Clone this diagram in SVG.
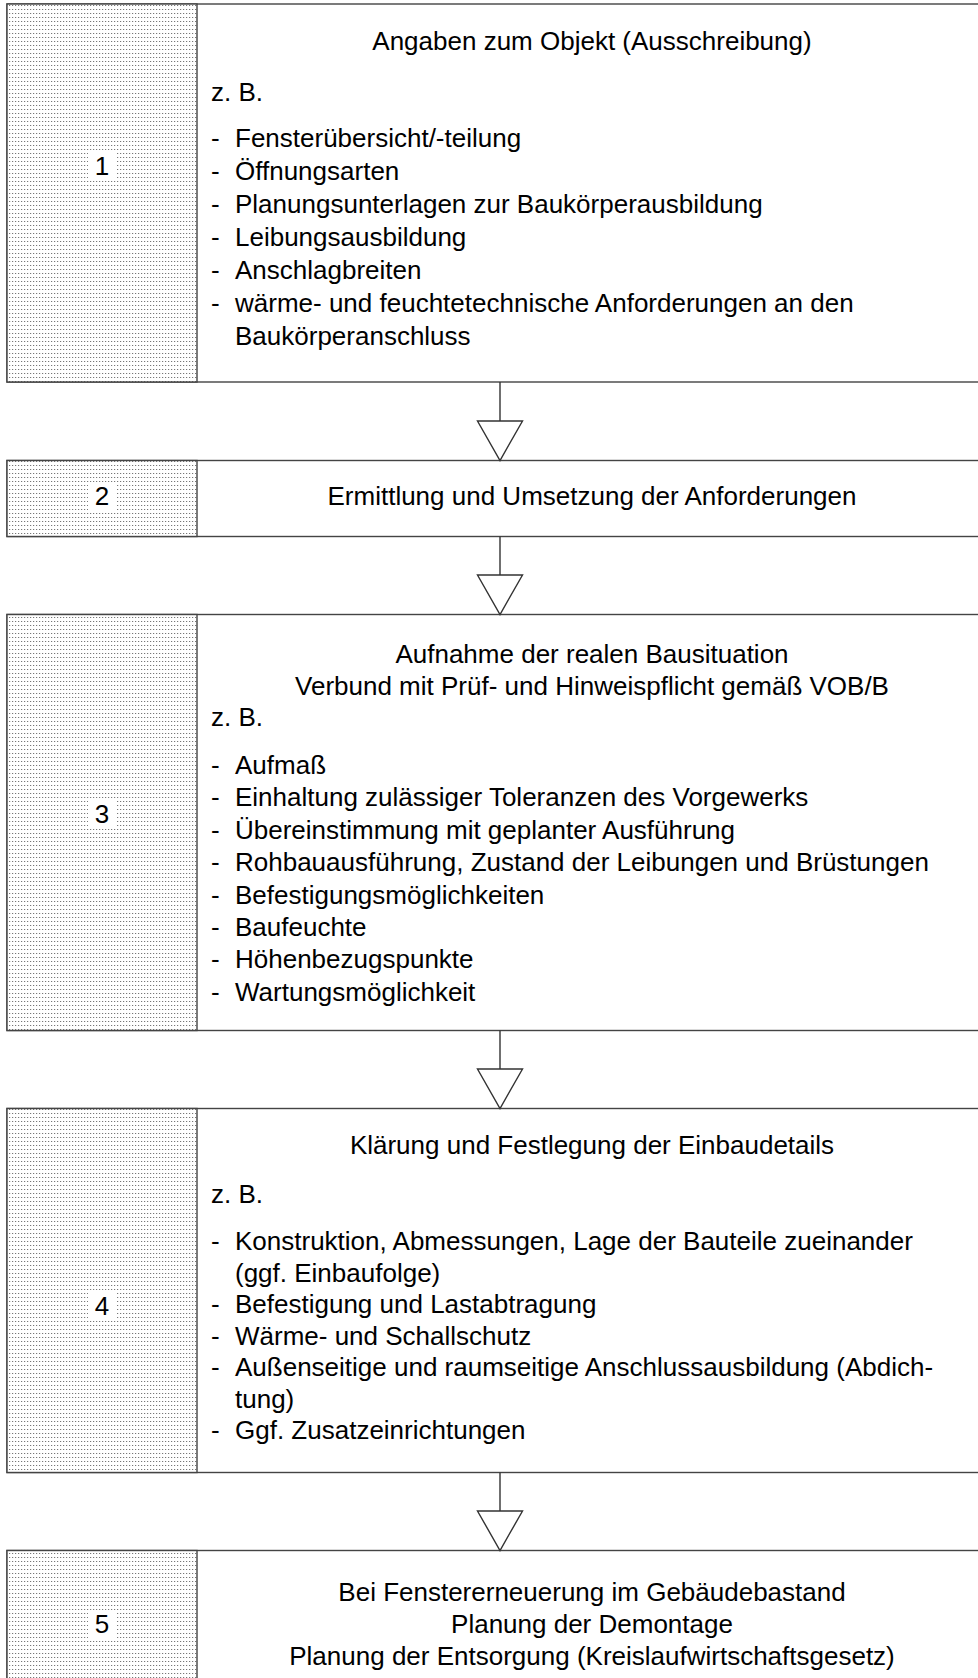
<svg xmlns="http://www.w3.org/2000/svg" width="978" height="1678" viewBox="0 0 978 1678">
<style>
.box{fill:#fff;stroke:#444;stroke-width:1.4}
.panel{fill:url(#dots);stroke:#444;stroke-width:1.4}
.t{font-family:"Liberation Sans",Arial,sans-serif;font-size:26px;fill:#000}
.c{text-anchor:middle}
.num{fill:#fff}
.conn line{stroke:#333;stroke-width:1.4}
.conn polygon{fill:#fff;stroke:#333;stroke-width:1.4}
</style>
<defs>
<pattern id="dots" width="3" height="4" patternUnits="userSpaceOnUse">
<rect width="3" height="4" fill="#fff"/>
<rect x="0" y="1" width="1.2" height="1" fill="#777"/>
</pattern>
</defs>
<rect width="978" height="1678" fill="#fff"/>
<g id="node1">
<rect class="box" x="7" y="4" width="990" height="378"/>
<rect class="panel" x="7" y="4" width="190" height="378"/>
<rect class="num" x="88" y="152" width="28" height="28"/>
<text class="t c" x="102" y="175">1</text>
<text class="t c" x="592" y="50">Angaben zum Objekt (Ausschreibung)</text>
<text class="t" x="211" y="101">z. B.</text>
<text class="t" x="211" y="147">-</text><text class="t" x="235" y="147">Fensterübersicht/-teilung</text>
<text class="t" x="211" y="180">-</text><text class="t" x="235" y="180">Öffnungsarten</text>
<text class="t" x="211" y="213">-</text><text class="t" x="235" y="213">Planungsunterlagen zur Baukörperausbildung</text>
<text class="t" x="211" y="246">-</text><text class="t" x="235" y="246">Leibungsausbildung</text>
<text class="t" x="211" y="279">-</text><text class="t" x="235" y="279">Anschlagbreiten</text>
<text class="t" x="211" y="312">-</text><text class="t" x="235" y="312">wärme- und feuchtetechnische Anforderungen an den</text>
<text class="t" x="235" y="345">Baukörperanschluss</text>
</g>
<g id="node2">
<rect class="box" x="7" y="460.5" width="990" height="76"/>
<rect class="panel" x="7" y="460.5" width="190" height="76"/>
<rect class="num" x="88" y="482" width="28" height="28"/>
<text class="t c" x="102" y="505">2</text>
<text class="t c" x="592" y="505">Ermittlung und Umsetzung der Anforderungen</text>
</g>
<g id="node3">
<rect class="box" x="7" y="614.5" width="990" height="416"/>
<rect class="panel" x="7" y="614.5" width="190" height="416"/>
<rect class="num" x="88" y="800" width="28" height="28"/>
<text class="t c" x="102" y="823">3</text>
<text class="t c" x="592" y="663">Aufnahme der realen Bausituation</text>
<text class="t c" x="592" y="695">Verbund mit Prüf- und Hinweispflicht gemäß VOB/B</text>
<text class="t" x="211" y="726">z. B.</text>
<text class="t" x="211" y="774">-</text><text class="t" x="235" y="774">Aufmaß</text>
<text class="t" x="211" y="806">-</text><text class="t" x="235" y="806">Einhaltung zulässiger Toleranzen des Vorgewerks</text>
<text class="t" x="211" y="839">-</text><text class="t" x="235" y="839">Übereinstimmung mit geplanter Ausführung</text>
<text class="t" x="211" y="871">-</text><text class="t" x="235" y="871">Rohbauausführung, Zustand der Leibungen und Brüstungen</text>
<text class="t" x="211" y="904">-</text><text class="t" x="235" y="904">Befestigungsmöglichkeiten</text>
<text class="t" x="211" y="936">-</text><text class="t" x="235" y="936">Baufeuchte</text>
<text class="t" x="211" y="968">-</text><text class="t" x="235" y="968">Höhenbezugspunkte</text>
<text class="t" x="211" y="1001">-</text><text class="t" x="235" y="1001">Wartungsmöglichkeit</text>
</g>
<g id="node4">
<rect class="box" x="7" y="1108.5" width="990" height="364"/>
<rect class="panel" x="7" y="1108.5" width="190" height="364"/>
<rect class="num" x="88" y="1292" width="28" height="28"/>
<text class="t c" x="102" y="1315">4</text>
<text class="t c" x="592" y="1154">Klärung und Festlegung der Einbaudetails</text>
<text class="t" x="211" y="1203">z. B.</text>
<text class="t" x="211" y="1250">-</text><text class="t" x="235" y="1250">Konstruktion, Abmessungen, Lage der Bauteile zueinander</text>
<text class="t" x="235" y="1282">(ggf. Einbaufolge)</text>
<text class="t" x="211" y="1313">-</text><text class="t" x="235" y="1313">Befestigung und Lastabtragung</text>
<text class="t" x="211" y="1345">-</text><text class="t" x="235" y="1345">Wärme- und Schallschutz</text>
<text class="t" x="211" y="1376">-</text><text class="t" x="235" y="1376">Außenseitige und raumseitige Anschlussausbildung (Abdich-</text>
<text class="t" x="235" y="1408">tung)</text>
<text class="t" x="211" y="1439">-</text><text class="t" x="235" y="1439">Ggf. Zusatzeinrichtungen</text>
</g>
<g id="node5">
<rect class="box" x="7" y="1550.5" width="990" height="200"/>
<rect class="panel" x="7" y="1550.5" width="190" height="200"/>
<rect class="num" x="88" y="1610" width="28" height="28"/>
<text class="t c" x="102" y="1633">5</text>
<text class="t c" x="592" y="1601">Bei Fenstererneuerung im Gebäudebastand</text>
<text class="t c" x="592" y="1633">Planung der Demontage</text>
<text class="t c" x="592" y="1665">Planung der Entsorgung  (Kreislaufwirtschaftsgesetz)</text>
</g>
<g id="connectors" class="conn">
<line x1="500" y1="382" x2="500" y2="421"/><polygon points="477.5,421 522.5,421 500,460.5"/>
<line x1="500" y1="536.5" x2="500" y2="575"/><polygon points="477.5,575 522.5,575 500,614.5"/>
<line x1="500" y1="1030.5" x2="500" y2="1069"/><polygon points="477.5,1069 522.5,1069 500,1108.5"/>
<line x1="500" y1="1472.5" x2="500" y2="1511"/><polygon points="477.5,1511 522.5,1511 500,1550.5"/>
</g>
</svg>
